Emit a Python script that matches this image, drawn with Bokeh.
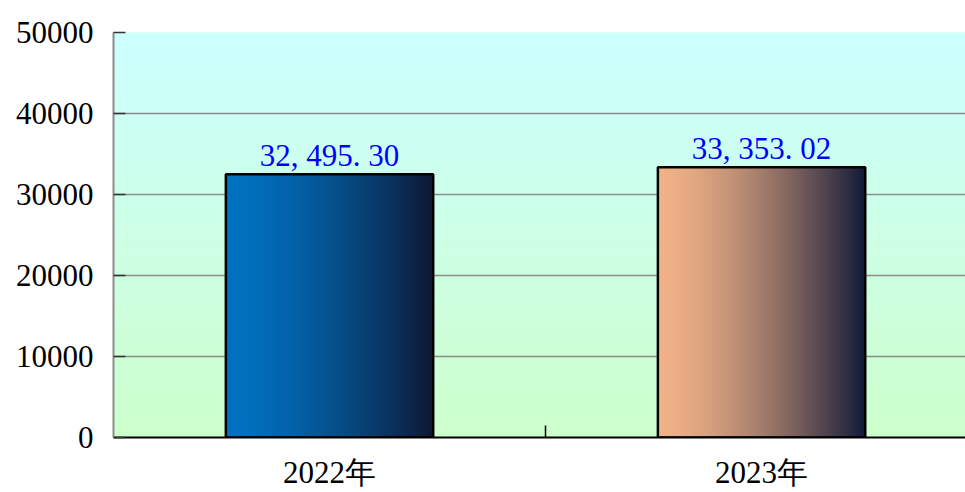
import numpy as np
from bokeh.plotting import figure
from bokeh.models import Range1d, FixedTicker
from bokeh.core.properties import value
from bokeh.embed import file_html
from bokeh.resources import INLINE

# ---- data ----
categories = ["2022年", "2023年"]
values = [32495.30, 33353.02]
value_labels = ["32, 495. 30", "33, 353. 02"]
y_ticks = [0, 10000, 20000, 30000, 40000, 50000]

# ---- style ----
bar_left_colors = [(0, 114, 194), (242, 178, 136)]
bar_right_colors = [(14, 24, 52), (18, 26, 56)]
bg_bottom = (204, 255, 204)
bg_top = (204, 255, 255)

x_pos = [i + 0.5 for i in range(len(categories))]
bar_width = 0.48
x_end = 1.972
y_end = 50000


def gradient(c0, c1, n, vertical, power=1.0):
    t = np.linspace(0.0, 1.0, n) ** power
    c0 = np.array(c0, dtype=float)
    c1 = np.array(c1, dtype=float)
    cols = c0[None, :] * (1 - t[:, None]) + c1[None, :] * t[:, None]
    if vertical:
        img = np.empty((n, 1), dtype=np.uint32)
        view = img.view(dtype=np.uint8).reshape((n, 1, 4))
        view[:, 0, 0:3] = cols.astype(np.uint8)
        view[:, 0, 3] = 255
    else:
        img = np.empty((1, n), dtype=np.uint32)
        view = img.view(dtype=np.uint8).reshape((1, n, 4))
        view[0, :, 0:3] = cols.astype(np.uint8)
        view[0, :, 3] = 255
    return img


p = figure(width=965, height=492,
           x_range=Range1d(0, x_end), y_range=Range1d(0, y_end),
           output_backend="svg", toolbar_location=None,
           min_border_left=113, min_border_top=32,
           min_border_bottom=55, min_border_right=0)
p.outline_line_color = None
p.background_fill_color = "#ccffe6"
p.border_fill_color = "white"

# background gradient
p.image_rgba(image=[gradient(bg_bottom, bg_top, 256, True)],
             x=0, y=0, dw=x_end, dh=y_end, level="image")

# bars with horizontal gradient
for xc, v, c0, c1 in zip(x_pos, values, bar_left_colors, bar_right_colors):
    p.image_rgba(image=[gradient(c0, c1, 256, False, power=1.5)],
                 x=xc - bar_width / 2, y=0, dw=bar_width, dh=v)

p.vbar(x=x_pos, top=values, width=bar_width, fill_color=None,
       line_color="black", line_width=2.5)

p.text(x=x_pos, y=values, text=value_labels, text_align="center",
       text_baseline="bottom", y_offset=-1, text_color="#0000ff",
       text_font=value("Liberation Serif"), text_font_size="31px")

# x axis
p.xaxis.ticker = FixedTicker(ticks=x_pos, minor_ticks=[1.0])
p.xaxis.major_label_overrides = {x: c for x, c in zip(x_pos, categories)}
p.xaxis.major_tick_line_color = None
p.xaxis.minor_tick_in = 12
p.xaxis.minor_tick_out = 0
p.xaxis.minor_tick_line_color = "black"
p.xaxis.minor_tick_line_width = 1.5
p.xaxis.axis_line_color = "black"
p.xaxis.axis_line_width = 2
p.xaxis.major_label_text_font = "Liberation Serif"
p.xaxis.major_label_text_font_size = "31px"
p.xaxis.major_label_text_color = "black"
p.xaxis.major_label_standoff = 11
p.xgrid.visible = False

# y axis
p.yaxis.ticker = FixedTicker(ticks=y_ticks)
p.yaxis.major_tick_in = 12
p.yaxis.major_tick_out = 0
p.yaxis.major_tick_line_color = "#333333"
p.yaxis.major_tick_line_width = 1.5
p.yaxis.minor_tick_line_color = None
p.yaxis.axis_line_color = "#8c8c8c"
p.yaxis.axis_line_width = 2
p.yaxis.major_label_text_font = "Liberation Serif"
p.yaxis.major_label_text_font_size = "31px"
p.yaxis.major_label_text_color = "black"
p.yaxis.major_label_standoff = 20
p.ygrid.ticker = FixedTicker(ticks=y_ticks)
p.ygrid.grid_line_color = "#8c8c8c"
p.ygrid.grid_line_width = 1.5

open("out.html", "w").write(file_html(p, INLINE))
